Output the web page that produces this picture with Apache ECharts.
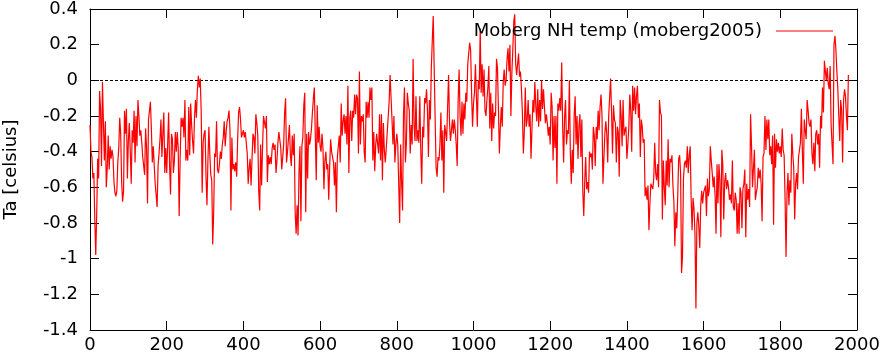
<!DOCTYPE html>
<html>
<head>
<meta charset="utf-8">
<script src="https://cdn.jsdelivr.net/npm/echarts@6/dist/echarts.min.js"></script>
<style>
html,body{margin:0;padding:0;background:#fff;}
#chart{width:882px;height:358px;}
</style>
</head>
<body>
<div id="chart"></div>
<script>
// Moberg NH temperature anomaly (2.5-year spacing)
const yearStep = 2.5;
const seg0000 = [-0.25,-0.40,-0.43,-0.55,-0.52,-0.78,-0.98,-0.75,-0.44,-0.55,
  -0.06,-0.16,-0.48,-0.01,-0.24,-0.45,-0.23,-0.60,-0.49,-0.31,
  -0.50,-0.37,-0.44,-0.39,-0.43,-0.57,-0.63,-0.65,-0.62,-0.46,
  -0.38,-0.21,-0.30,-0.57,-0.68,-0.62,-0.17,-0.30,-0.16,-0.55,
  -0.34,-0.24,-0.40,-0.58,-0.28,-0.35,-0.17,-0.46,-0.20,-0.37,
  -0.11,-0.20,-0.31,-0.28,-0.35,-0.43,-0.44,-0.53,-0.27,-0.38,
  -0.69,-0.22,-0.22,-0.12,-0.27,-0.46,-0.37,-0.37,-0.58,-0.57,
  -0.71,-0.48,-0.41,-0.33,-0.22,-0.43,-0.30,-0.18,-0.52,-0.38,
  -0.52,-0.36,-0.18,-0.47,-0.64,-0.30,-0.33,-0.52,-0.45,-0.29,
  -0.40,-0.29,-0.38,-0.76,-0.45,-0.21,-0.26,-0.21,-0.32,-0.11];
const seg0250 = [-0.45,-0.39,-0.45,-0.15,-0.42,-0.13,-0.25,-0.34,-0.41,-0.21,
  -0.11,-0.21,-0.05,0.025,-0.04,0.01,-0.18,-0.63,-0.35,-0.30,
  -0.28,-0.54,-0.70,-0.45,-0.26,-0.42,-0.53,-0.56,-0.92,-0.74,
  -0.41,-0.43,-0.23,-0.50,-0.52,-0.47,-0.40,-0.44,-0.36,-0.32,
  -0.23,-0.37,-0.29,-0.23,-0.21,-0.17,-0.28,-0.73,-0.32,-0.50,
  -0.47,-0.51,-0.46,-0.54,-0.33,-0.18,-0.15,-0.22,-0.32,-0.30,
  -0.28,-0.32,-0.29,-0.30,-0.41,-0.58,-0.49,-0.44,-0.59,-0.44,
  -0.30,-0.32,-0.41,-0.19,-0.24,-0.31,-0.62,-0.73,-0.36,-0.59,
  -0.37,-0.20,-0.21,-0.27,-0.20,-0.57,-0.42,-0.47,-0.43,-0.47,
  -0.38,-0.35,-0.39,-0.36,-0.52,-0.45,-0.35,-0.29,-0.30,-0.38];
const seg0500 = [-0.50,-0.43,-0.36,-0.18,-0.10,-0.46,-0.40,-0.40,-0.25,-0.42,
  -0.48,-0.31,-0.42,-0.30,-0.74,-0.86,-0.70,-0.87,-0.51,-0.37,
  -0.79,-0.37,-0.32,-0.14,-0.07,-0.74,-0.30,-0.55,-0.29,-0.36,
  -0.33,-0.27,-0.18,-0.10,-0.04,-0.31,-0.56,-0.14,-0.35,-0.26,
  -0.37,-0.40,-0.30,-0.38,-0.61,-0.45,-0.40,-0.50,-0.47,-0.67,
  -0.48,-0.33,-0.40,-0.40,-0.46,-0.59,-0.46,-0.74,-0.43,-0.43,
  -0.31,-0.46,-0.13,-0.31,-0.23,-0.19,-0.30,-0.20,-0.36,-0.03,
  -0.52,-0.21,-0.17,-0.34,-0.17,-0.21,-0.08,-0.19,-0.08,-0.10,
  -0.41,0.05,-0.36,-0.20,-0.23,-0.19,-0.40,-0.46,-0.12,-0.21,
  -0.12,-0.21,-0.04,-0.11,-0.04,-0.45,-0.29,-0.51,-0.36,-0.30];
const seg0750 = [-0.30,-0.41,-0.19,-0.45,-0.19,-0.56,-0.24,-0.39,-0.46,-0.38,
  -0.39,-0.38,-0.12,0.03,0.04,-0.22,-0.36,-0.20,-0.46,-0.36,
  -0.30,-0.36,-0.36,-0.80,-0.36,-0.57,-0.73,-0.19,-0.04,-0.46,
  -0.35,-0.07,-0.13,-0.17,-0.41,-0.25,-0.36,0.12,-0.25,-0.34,
  -0.09,-0.34,-0.28,-0.35,-0.09,-0.39,-0.58,-0.26,-0.32,-0.10,
  -0.13,-0.05,-0.17,-0.43,-0.11,-0.22,0.07,0.22,0.36,0.07,
  -0.22,-0.49,-0.54,-0.43,-0.45,-0.36,-0.18,-0.45,-0.28,-0.63,
  -0.25,-0.29,-0.34,-0.15,0.03,-0.24,-0.34,-0.28,-0.22,-0.30,
  -0.22,-0.28,-0.36,-0.48,-0.11,0.06,-0.20,-0.31,-0.12,-0.30,
  -0.13,-0.22,-0.07,-0.12,0.09,0.15,0.21,0.17,-0.07,-0.26];
const seg1000 = [-0.13,-0.07,0.09,0.10,-0.26,0.00,-0.05,0.29,-0.07,0.09,
  -0.09,0.06,-0.17,-0.20,-0.11,-0.04,0.08,-0.27,-0.07,-0.34,
  -0.13,-0.27,-0.18,-0.20,0.12,0.07,-0.16,-0.41,-0.26,-0.15,
  -0.26,-0.01,0.06,-0.03,0.00,0.12,0.18,0.05,0.20,-0.20,
  0.04,0.17,0.33,0.37,0.09,0.03,0.09,0.15,0.02,0.05,
  -0.05,-0.18,-0.41,-0.29,-0.04,-0.26,-0.22,-0.11,-0.26,-0.19,
  -0.44,-0.27,-0.11,-0.18,-0.01,-0.15,-0.23,-0.05,-0.26,-0.11,
  -0.23,0.00,-0.16,-0.05,-0.15,-0.24,-0.19,-0.24,-0.31,-0.26,
  -0.36,-0.07,-0.15,-0.45,-0.20,-0.38,-0.20,-0.58,-0.13,-0.17,
  -0.10,-0.17,0.10,-0.26,-0.46,-0.21,-0.11,-0.36,-0.28,-0.30];
const seg1250 = [0.00,-0.40,-0.58,-0.39,-0.52,-0.20,-0.09,-0.36,-0.20,-0.44,
  -0.26,-0.19,-0.43,-0.22,-0.62,-0.76,-0.57,-0.43,-0.61,-0.57,
  -0.63,-0.40,-0.43,-0.41,-0.50,-0.26,-0.31,-0.48,-0.26,-0.33,
  -0.17,-0.28,-0.15,-0.08,-0.19,-0.58,-0.59,-0.30,-0.23,-0.30,
  -0.46,-0.20,-0.20,0.01,-0.18,-0.41,-0.14,-0.22,-0.24,-0.46,
  -0.26,-0.29,-0.54,-0.11,-0.20,-0.37,-0.11,-0.31,-0.28,-0.26,
  -0.44,-0.36,-0.26,-0.08,-0.17,-0.40,-0.03,-0.17,-0.04,-0.19,
  -0.09,-0.03,-0.21,-0.13,-0.43,-0.22,-0.26,-0.35,-0.33,-0.65,
  -0.60,-0.67,-0.59,-0.84,-0.69,-0.58,-0.59,-0.61,-0.55,-0.35,
  -0.52,-0.56,-0.47,-0.60,-0.11,-0.18,-0.20,-0.78,-0.45,-0.60];
const seg1500 = [-0.70,-0.45,-0.59,-0.33,-0.60,-0.44,-0.46,-0.42,-0.59,-0.68,
  -0.93,-0.74,-0.83,-0.65,-0.44,-0.42,-0.52,-1.08,-0.99,-0.55,
  -0.47,-0.45,-0.49,-0.37,-0.52,-0.42,-0.37,-0.66,-0.84,-0.66,
  -0.72,-0.86,-1.28,-0.80,-0.74,-0.82,-0.94,-0.70,-0.62,-0.69,
  -0.63,-0.64,-0.59,-0.76,-0.55,-0.65,-0.61,-0.37,-0.45,-0.52,
  -0.60,-0.54,-0.65,-0.86,-0.47,-0.69,-0.47,-0.56,-0.88,-0.39,
  -0.47,-0.78,-0.57,-0.52,-0.61,-0.56,-0.60,-0.67,-0.64,-0.69,
  -0.45,-0.71,-0.73,-0.63,-0.67,-0.86,-0.69,-0.86,-0.60,-0.63,
  -0.83,-0.61,-0.58,-0.50,-0.88,-0.58,-0.67,-0.61,-0.71,-0.19,
  -0.37,-0.60,-0.61,-0.39,-0.67,-0.63,-0.60,-0.49,-0.55,-0.50];
const seg1750 = [-0.58,-0.79,-0.43,-0.41,-0.20,-0.39,-0.22,-0.33,-0.22,-0.42,
  -0.37,-0.47,-0.31,-0.81,-0.30,-0.49,-0.33,-0.40,-0.35,-0.41,
  -0.37,-0.43,-0.27,-0.39,-0.42,-0.67,-0.99,-0.63,-0.52,-0.70,
  -0.56,-0.63,-0.30,-0.41,-0.49,-0.78,-0.58,-0.52,-0.61,-0.43,
  -0.42,-0.35,-0.16,-0.39,-0.58,-0.22,-0.28,-0.33,-0.11,-0.17,
  -0.24,-0.26,-0.22,-0.41,-0.47,-0.35,-0.51,-0.30,-0.28,-0.36,
  -0.30,-0.49,-0.20,-0.27,-0.04,-0.18,0.11,0.05,0.00,0.07,
  -0.02,-0.05,0.08,-0.25,-0.36,-0.47,0.20,0.25,0.17,0.05,
  -0.05,-0.20,-0.34,-0.11,-0.17,-0.46,-0.11,-0.05,-0.09,-0.20,
  -0.28,0.03];
const segments = [[0, seg0000],[250, seg0250],[500, seg0500],[750, seg0750],
  [1000, seg1000],[1250, seg1250],[1500, seg1500],[1750, seg1750]];

const xTicks = {min: 0, max: 2000, interval: 200};
const yTicks = {min: -1.4, max: 0.4, interval: 0.2};
const seriesName = 'Moberg NH temp (moberg2005)';
const yTitle = 'Ta [celsius]';

const data = [];
segments.forEach(([start, vals]) => {
  vals.forEach((v, i) => data.push([start + i * yearStep, v]));
});

const font = '"DejaVu Sans", sans-serif';
const fs = 18;
const black = '#000';

function frameAxis(extra) {
  return Object.assign({
    type: 'value',
    axisLine: {show: true, onZero: false, lineStyle: {color: black, width: 1}},
    axisTick: {show: true, inside: true, length: 9, lineStyle: {color: black, width: 1}},
    splitLine: {show: false},
    axisLabel: {show: false}
  }, extra);
}

const chart = echarts.init(document.getElementById('chart'), null, {renderer: 'canvas'});
chart.setOption({
  animation: false,
  backgroundColor: '#fff',
  textStyle: {fontFamily: font},
  grid: {left: 90, right: 25, top: 9, bottom: 28, containLabel: false, outerBoundsMode: 'none'},
  legend: {
    show: true,
    data: [seriesName],
    right: 44,
    top: 17,
    align: 'right',
    itemWidth: 57,
    itemHeight: 1,
    icon: 'rect',
    textStyle: {fontFamily: font, fontSize: fs, color: '#000', padding: [0, 9, 0, 0]},
    selectedMode: false
  },
  xAxis: [
    frameAxis({position: 'bottom', min: xTicks.min, max: xTicks.max, interval: xTicks.interval,
      axisLabel: {show: true, color: black, fontFamily: font, fontSize: fs, margin: 6,
        formatter: v => String(v)}}),
    frameAxis({position: 'top', min: xTicks.min, max: xTicks.max, interval: xTicks.interval})
  ],
  yAxis: [
    frameAxis({position: 'left', min: yTicks.min, max: yTicks.max, interval: yTicks.interval,
      name: yTitle, nameLocation: 'middle', nameGap: 70, nameRotate: 90,
      nameTextStyle: {color: black, fontFamily: font, fontSize: fs},
      axisLabel: {show: true, color: black, fontFamily: font, fontSize: fs, margin: 12,
        formatter: v => String(Math.round(v * 10) / 10)}}),
    frameAxis({position: 'right', min: yTicks.min, max: yTicks.max, interval: yTicks.interval})
  ],
  series: [{
    name: seriesName,
    type: 'line',
    data: data,
    showSymbol: false,
    symbol: 'none',
    lineStyle: {color: '#ff0000', width: 1.2},
    itemStyle: {color: '#ff0000'},
    z: 3,
    markLine: {
      silent: true,
      symbol: 'none',
      label: {show: false},
      lineStyle: {color: black, width: 1, type: [3, 2]},
      data: [{yAxis: 0}],
      z: 2
    }
  }]
});
</script>
</body>
</html>
